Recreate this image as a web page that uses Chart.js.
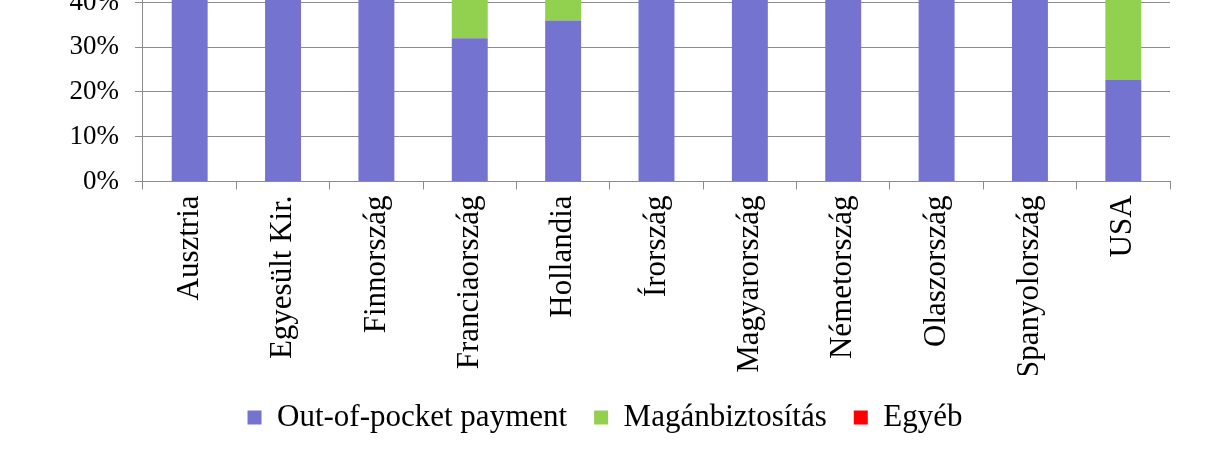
<!DOCTYPE html>
<html>
<head>
<meta charset="utf-8">
<script src="https://cdn.jsdelivr.net/npm/chart.js@4/dist/chart.umd.min.js"></script>
<style>
  html, body { margin: 0; padding: 0; background: #fff; overflow: hidden; }
  #wrap { position: absolute; left: 0; top: -300px; width: 1232px; height: 762px; }
</style>
</head>
<body>
<div id="wrap"><canvas id="privateChart"></canvas></div>
<script>
// Categories (countries)
const countries = ["Ausztria", "Egyesült Kir.", "Finnország", "Franciaország", "Hollandia",
    "Írország", "Magyarország", "Németország", "Olaszország", "Spanyolország", "USA"];

// Shares of private health expenditure (%), upper parts estimated (cropped in the picture)
const outOfPocket = [66, 58, 80, 32, 36, 58, 88, 60, 87, 74, 22.7];
const privateInsurance = [18, 20, 11, 63, 50, 34, 2, 32, 4, 21, 64];
const otherPayments = [16, 22, 9, 5, 14, 8, 10, 8, 9, 5, 13.3];

const yTicks = [0, 10, 20, 30, 40, 50, 60, 70, 80, 90, 100];

const serif = "'Liberation Serif', 'Times New Roman', serif";

const ctx = document.getElementById("privateChart").getContext("2d");

new Chart(ctx, {
    type: "bar",
    data: {
        labels: countries,
        datasets: [
            {
                label: "Out-of-pocket payment",
                data: outOfPocket,
                backgroundColor: "#7474d0",
                categoryPercentage: 1,
                barPercentage: 0.385,
            },
            {
                label: "Magánbiztosítás",
                data: privateInsurance,
                backgroundColor: "#92d050",
                categoryPercentage: 1,
                barPercentage: 0.385,
            },
            {
                label: "Egyéb",
                data: otherPayments,
                backgroundColor: "#ff0000",
                categoryPercentage: 1,
                barPercentage: 0.385,
            },
        ],
    },
    options: {
        responsive: true,
        maintainAspectRatio: false,
        animation: false,
        layout: {
            padding: { left: 40, right: 62, top: 34, bottom: 19 },
        },
        plugins: {
            legend: {
                position: "bottom",
                labels: {
                    boxWidth: 14,
                    boxHeight: 14,
                    padding: 27,
                    color: "#000",
                    font: { family: serif, size: 31 },
                },
            },
            tooltip: { enabled: false },
        },
        scales: {
            x: {
                stacked: true,
                // pull the legend a bit closer to the rotated labels
                afterFit: (scale) => { scale.height -= 9; },
                grid: {
                    offset: true,
                    drawOnChartArea: false,
                    tickLength: 8,
                    color: "#8c8c8c",
                },
                border: { color: "#8c8c8c" },
                ticks: {
                    minRotation: 90,
                    maxRotation: 90,
                    padding: 6,
                    color: "#000",
                    font: { family: serif, size: 31 },
                },
            },
            y: {
                stacked: true,
                min: 0,
                max: 100,
                afterBuildTicks: (axis) => {
                    axis.ticks = yTicks.map((v) => ({ value: v }));
                },
                grid: {
                    color: "#8c8c8c",
                    tickLength: 8,
                },
                border: { color: "#8c8c8c" },
                ticks: {
                    padding: 16,
                    color: "#000",
                    font: { family: serif, size: 27 },
                    callback: (v) => v + "%",
                },
            },
        },
    },
});
</script>
</body>
</html>
